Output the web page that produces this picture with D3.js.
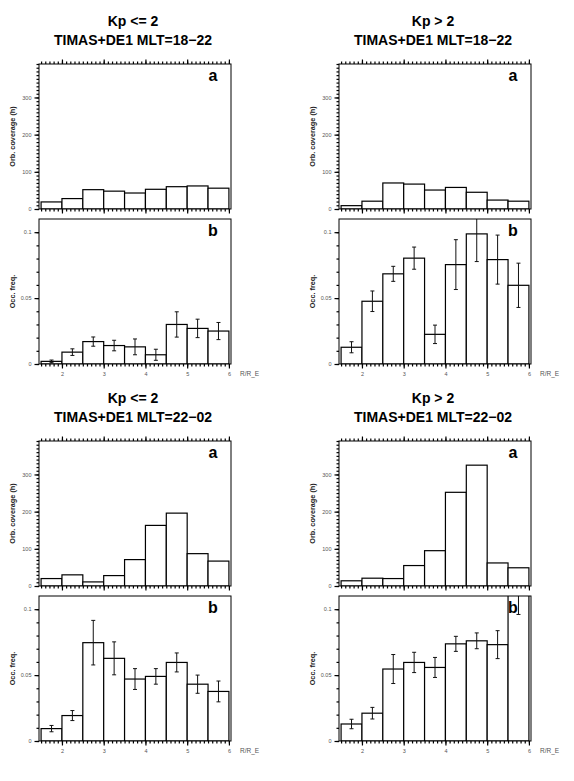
<!DOCTYPE html>
<html>
<head>
<meta charset="utf-8">
<script src="https://cdn.jsdelivr.net/npm/d3@7"></script>
<style>
  body { margin: 0; background: #fff; }
  text { font-family: "Liberation Sans", Arial, sans-serif; }
</style>
</head>
<body>
<svg id="chart" width="574" height="781"></svg>
<script>
// radial bins (R/R_E), 0.5 wide
const binStart = [1.5, 2.0, 2.5, 3.0, 3.5, 4.0, 4.5, 5.0, 5.5];
const binWidth = 0.5;

const kpLabels = ["Kp <= 2", "Kp > 2"];
const mltLabels = ["TIMAS+DE1 MLT=18\u221222", "TIMAS+DE1 MLT=22\u221202"];

// orbital coverage (h)
const covLow1822 = [19, 28, 52, 48, 43, 53, 60, 62, 56];
const covHigh1822 = [9, 21, 70, 67, 51, 58, 45, 24, 21];
const covLow2202 = [20, 30, 11, 28, 71, 163, 196, 87, 67];
const covHigh2202 = [14, 21, 20, 55, 95, 252, 325, 62, 49];

// occurrence frequency and error
const freqLow1822 = [0.002, 0.009, 0.017, 0.014, 0.013, 0.007, 0.030, 0.027, 0.025];
const errLow1822 = [0.001, 0.0025, 0.0035, 0.004, 0.006, 0.0042, 0.0096, 0.007, 0.0065];
const freqHigh1822 = [0.0127, 0.0476, 0.0684, 0.0803, 0.0225, 0.0754, 0.0987, 0.0792, 0.0597];
const errHigh1822 = [0.0042, 0.0078, 0.0057, 0.0084, 0.007, 0.0189, 0.021, 0.0186, 0.0168];
const freqLow2202 = [0.0094, 0.0193, 0.0746, 0.0627, 0.047, 0.049, 0.0596, 0.0431, 0.0376];
const errLow2202 = [0.0024, 0.0038, 0.0169, 0.0125, 0.0079, 0.0059, 0.0072, 0.0069, 0.0079];
const freqHigh2202 = [0.0129, 0.0211, 0.0546, 0.0596, 0.0558, 0.0737, 0.076, 0.0731, 0.13];
const errHigh2202 = [0.0036, 0.0044, 0.011, 0.0077, 0.0076, 0.0057, 0.006, 0.0106, 0.034];

const panels = [
  { col: 0, row: 0, kp: kpLabels[0], mlt: mltLabels[0], cov: covLow1822, freq: freqLow1822, err: errLow1822 },
  { col: 1, row: 0, kp: kpLabels[1], mlt: mltLabels[0], cov: covHigh1822, freq: freqHigh1822, err: errHigh1822 },
  { col: 0, row: 1, kp: kpLabels[0], mlt: mltLabels[1], cov: covLow2202, freq: freqLow2202, err: errLow2202 },
  { col: 1, row: 1, kp: kpLabels[1], mlt: mltLabels[1], cov: covHigh2202, freq: freqHigh2202, err: errHigh2202 }
];

const colX = [[39, 231], [339, 531]];
const rowTop = [64, 441];
const ph = 145; // height of one sub-panel
const gap = 10;

const svg = d3.select("#chart");
let clipId = 0;

// axis helper: draws ticks only (no domain line)
function ticks(g, axis, tx, ty) {
  const a = g.append("g").attr("transform", `translate(${tx},${ty})`).call(axis);
  a.select(".domain").remove();
  a.selectAll(".tick line").attr("stroke", "#000").attr("stroke-width", 1.2);
  a.selectAll(".tick text").attr("font-size", 5.5).attr("fill", "#555");
  return a;
}

function drawBox(g, x, y, top, values, err, opts) {
  const [x0, x1] = x.range();
  const bottom = top + ph;

  const id = "clip" + clipId++;
  svg.append("clipPath").attr("id", id)
    .append("rect").attr("x", x0).attr("y", top).attr("width", x1 - x0).attr("height", ph);

  const marks = g.append("g").attr("clip-path", `url(#${id})`);
  marks.selectAll("rect")
    .data(values)
    .join("rect")
    .attr("x", (d, i) => x(binStart[i]))
    .attr("width", (d, i) => x(binStart[i] + binWidth) - x(binStart[i]))
    .attr("y", (d) => y(d))
    .attr("height", (d) => y(0) - y(d))
    .attr("fill", "#fff")
    .attr("stroke", "#000")
    .attr("stroke-width", 1.2);

  if (err) {
    const eb = marks.append("g").attr("stroke", "#111").attr("stroke-width", 1);
    values.forEach((v, i) => {
      const cx = x(binStart[i] + binWidth / 2);
      const lo = y(v - err[i]), hi = y(v + err[i]);
      eb.append("line").attr("x1", cx).attr("x2", cx).attr("y1", lo).attr("y2", hi);
      eb.append("line").attr("x1", cx - 2).attr("x2", cx + 2).attr("y1", lo).attr("y2", lo);
      eb.append("line").attr("x1", cx - 2).attr("x2", cx + 2).attr("y1", hi).attr("y2", hi);
    });
  }

  // frame
  g.append("rect")
    .attr("x", x0).attr("y", top).attr("width", x1 - x0).attr("height", ph)
    .attr("fill", "none").attr("stroke", "#000").attr("stroke-width", 1);

  // y axis, major + minor ticks
  ticks(g, d3.axisLeft(y).tickValues(opts.yTicks).tickSize(4.5).tickPadding(3)
    .tickFormat(d3.format("~g")), x0, 0);
  ticks(g, d3.axisLeft(y).tickValues(opts.yMinor).tickSize(2.5).tickFormat(""), x0, 0);

  // x ticks below box
  const xMajor = d3.range(2, 7);
  const xMinor = d3.range(15, 61).map((d) => d / 10);
  ticks(g, d3.axisBottom(x).tickValues(xMajor).tickSize(4.5).tickPadding(4)
    .tickFormat(opts.xLabels ? d3.format("d") : ""), 0, bottom);
  ticks(g, d3.axisBottom(x).tickValues(xMinor).tickSize(2.5).tickFormat(""), 0, bottom);

  if (opts.topTicks) {
    ticks(g, d3.axisTop(x).tickValues(xMajor).tickSize(4.5).tickFormat(""), 0, top);
    ticks(g, d3.axisTop(x).tickValues(xMinor).tickSize(2.5).tickFormat(""), 0, top);
  }

  if (opts.xLabels) {
    g.append("text")
      .attr("x", x1 + 9).attr("y", bottom + 12)
      .attr("font-size", 6.5).attr("fill", "#555")
      .text("R/R_E");
  }

  // panel letter
  g.append("text")
    .attr("x", x1 - 18).attr("y", top + 17)
    .attr("text-anchor", "middle")
    .attr("font-size", 16).attr("font-weight", "bold")
    .text(opts.letter);

  // y title
  g.append("text")
    .attr("transform", `translate(${x0 - 24},${top + ph / 2}) rotate(-90)`)
    .attr("text-anchor", "middle")
    .attr("font-size", 7.3).attr("font-weight", "bold").attr("fill", "#222")
    .text(opts.yTitle);
}

panels.forEach((p) => {
  const [x0, x1] = colX[p.col];
  const topA = rowTop[p.row];
  const topB = topA + ph + gap;
  const g = svg.append("g");

  const x = d3.scaleLinear().domain([1.45, 6.05]).range([x0, x1]);
  const yA = d3.scaleLinear().domain([0, 390]).range([topA + ph, topA]);
  const yB = d3.scaleLinear().domain([0, 0.11]).range([topB + ph, topB]);

  const cx = (x0 + x1) / 2 - 2;
  g.append("text").attr("x", cx).attr("y", topA - 38)
    .attr("text-anchor", "middle").attr("font-size", 14).attr("font-weight", "bold")
    .text(p.kp);
  g.append("text").attr("x", cx).attr("y", topA - 19)
    .attr("text-anchor", "middle").attr("font-size", 14).attr("font-weight", "bold")
    .text(p.mlt);

  drawBox(g, x, yA, topA, p.cov, null, {
    yTicks: [0, 100, 200, 300],
    yMinor: d3.range(0, 391, 10),
    topTicks: true,
    xLabels: false,
    letter: "a",
    yTitle: "Orb. coverage (h)"
  });
  drawBox(g, x, yB, topB, p.freq, p.err, {
    yTicks: [0, 0.05, 0.1],
    yMinor: d3.range(0, 11).map((d) => d / 100),
    topTicks: false,
    xLabels: true,
    letter: "b",
    yTitle: "Occ. freq."
  });
});
</script>
</body>
</html>
